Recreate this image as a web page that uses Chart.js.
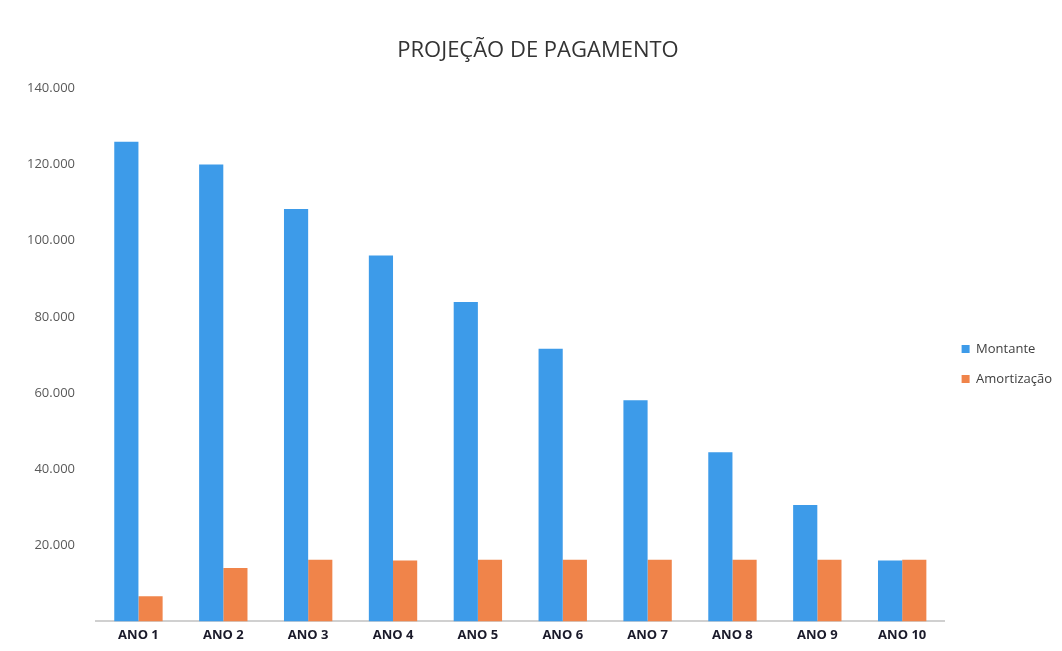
<!DOCTYPE html>
<html>
<head>
<meta charset="utf-8">
<script src="https://cdn.jsdelivr.net/npm/chart.js@4"></script>
<style>
  html, body { margin: 0; padding: 0; background: #fff; }
  #wrap { width: 1062px; height: 651px; position: relative; }
</style>
</head>
<body>
<div id="wrap"><canvas id="graph"></canvas></div>
<script>
// values (in units)
const categories = ['ANO 1','ANO 2','ANO 3','ANO 4','ANO 5','ANO 6','ANO 7','ANO 8','ANO 9','ANO 10'];
const montante = [126000, 120000, 108300, 96100, 83900, 71600, 58100, 44400, 30600, 16000];
const amortizacao = [6600, 14000, 16200, 16000, 16200, 16200, 16200, 16200, 16200, 16200];
const yTicks = [20000, 40000, 60000, 80000, 100000, 120000, 140000];

const ctx = document.getElementById('graph');

function fmt(v){
    // 120000 -> 120.000
    return v.toString().replace(/\B(?=(\d{3})+(?!\d))/g, '.');
}

var config = {
    type: 'bar',
    data: {
        labels: categories,
        datasets: [{
            label: 'Montante',
            data: montante,
            backgroundColor: '#3d9be9',
            borderWidth: 0
        }, {
            label: 'Amortização',
            data: amortizacao,
            backgroundColor: '#f0844a',
            borderWidth: 0
        }]
    },
    options: {
        responsive: true,
        maintainAspectRatio: false,
        animation: false,
        layout: { padding: { top: 30, left: 14, right: 0, bottom: 10 } },
        datasets: { bar: { categoryPercentage: 0.57, barPercentage: 1.0 } },
        plugins: {
            title: {
                display: true,
                text: 'PROJEÇÃO DE PAGAMENTO',
                color: '#333',
                font: { family: 'Open Sans', size: 22, weight: 'normal' },
                padding: { top: 8, bottom: 24 }
            },
            legend: {
                position: 'right',
                // empty title only pushes the items down a bit
                title: {
                    display: true,
                    text: ' ',
                    font: { size: 1 },
                    padding: { top: 0, bottom: 56 }
                },
                labels: {
                    boxWidth: 8,
                    boxHeight: 8,
                    padding: 17,
                    color: '#404040',
                    font: { family: 'Open Sans', size: 13 }
                }
            },
            tooltip: { enabled: false }
        },
        scales: {
            x: {
                grid: { display: false },
                border: { display: true, color: '#d0d0d0', width: 2 },
                ticks: {
                    color: '#1a1a2a',
                    padding: -2,
                    font: { family: 'Open Sans', size: 13, weight: 'bold' }
                }
            },
            y: {
                min: 0,
                max: 140000,
                grid: { display: false },
                border: { display: false },
                afterBuildTicks: (axis) => {
                    axis.ticks = [0].concat(yTicks).map(v => ({ value: v }));
                },
                ticks: {
                    color: '#595959',
                    padding: 13,
                    font: { family: 'Open Sans', size: 13 },
                    callback: (v) => v === 0 ? '' : fmt(v)
                }
            }
        }
    }
};

var chart = new Chart(ctx, config);
</script>
</body>
</html>
